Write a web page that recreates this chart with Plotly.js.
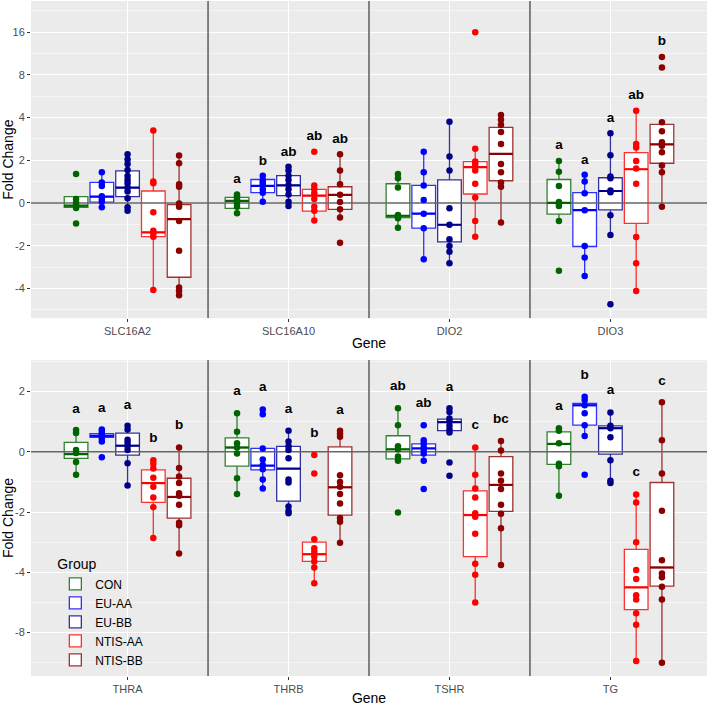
<!DOCTYPE html>
<html><head><meta charset="utf-8">
<script src="https://cdn.plot.ly/plotly-3.0.1.min.js"></script>
<style>body{margin:0;padding:0;background:#fff}#chart{width:709px;height:706px}</style>
</head><body><div id="chart"></div>
<script>
// y values are log2 fold change; tick labels show signed fold change
const groups = ['CON','EU-AA','EU-BB','NTIS-AA','NTIS-BB'];
const pointColors = ['#006400','#0000FF','#00008B','#FF0000','#8B0000'];
const boxColors = ['rgba(0,100,0,0.8)','rgba(0,0,255,0.8)','rgba(0,0,139,0.8)','rgba(255,0,0,0.8)','rgba(139,0,0,0.8)'];

const genesTop = ['SLC16A2','SLC16A10','DIO2','DIO3'];
const genesBottom = ['THRA','THRB','TSHR','TG'];
const yTickValsTop = [-2,-1,0,1,2,3,4];
const yTickTextTop = ['-4','-2','0','2','4','8','16'];
const yTickValsBottom = [-3,-2,-1,0,1];
const yTickTextBottom = ['-8','-4','-2','0','2'];

// ---------- TOP PANEL: [group][gene] ----------
const topPoints = [
  [[0.68,0.09,0.01,-0.05,-0.12,-0.48],[0.20,0.15,0.09,0.05,-0.01,-0.09,-0.24],[0.68,0.58,0.36,-0.28,-0.30,-0.36,-0.58],[0.98,0.73,0.40,0.02,-0.02,-0.07,-0.42,-1.59]],
  [[0.72,0.48,0.40,0.16,0.09,0.03,-0.10],[0.64,0.54,0.48,0.42,0.32,0.24,0.03],[1.20,0.72,0.41,0.07,-0.25,-0.59,-1.32],[0.66,0.50,0.23,-0.17,-1.01,-1.28,-1.71]],
  [[1.14,1.02,0.91,0.77,0.63,0.54,0.46,0.36,0.27,0.11,-0.10,-0.18],[0.85,0.76,0.64,0.54,0.42,0.32,0.20,0.03,-0.07],[1.90,1.09,0.76,-0.125,-0.51,-0.85,-1.01,-1.14,-1.41],[1.63,1.12,0.62,0.58,0.29,0.25,-0.29,-0.75,-2.37]],
  [[1.70,0.50,0.46,-0.22,-0.65,-0.71,-0.79,-2.04],[1.20,0.41,0.32,0.23,0.09,-0.09,-0.18,-0.41],[4.0,1.27,0.97,0.91,0.84,0.76,0.45,0.13,-0.42,-0.79],[2.16,1.38,1.30,0.98,0.81,0.45,-0.80,-1.41,-2.06]],
  [[1.11,0.93,0.44,0.38,-0.01,-0.09,-0.42,-1.12,-1.98,-2.06,-2.16],[1.14,0.76,0.44,0.19,0.02,-0.15,-0.34,-0.93],[2.06,1.95,1.83,1.66,1.38,0.91,0.72,0.48,0.38,-0.46],[3.42,3.17,1.89,1.68,1.42,1.34,1.19,0.875,0.72,-0.09]]
];
const topQ1 = [[-0.10,-0.125,-0.34,-0.26],[0.02,0.24,-0.59,-1.02],[0.15,0.17,-0.91,-0.16],[-0.79,-0.19,0.21,-0.48],[-1.74,-0.15,0.52,0.93]];
const topMedian = [[-0.06,0.05,-0.30,0.0],[0.15,0.40,-0.25,-0.17],[0.36,0.41,-0.51,0.28],[-0.69,0.17,0.84,0.79],[-0.38,0.19,1.15,1.37]];
const topQ3 = [[0.15,0.13,0.45,0.55],[0.48,0.55,0.41,0.24],[0.75,0.64,0.54,0.59],[0.28,0.32,0.97,1.18],[-0.04,0.38,1.77,1.84]];
const topLower = [[-0.12,-0.24,-0.58,-0.42],[-0.10,0.03,-1.32,-1.71],[-0.18,-0.07,-1.41,-0.75],[-2.04,-0.41,-0.79,-2.06],[-2.16,-0.34,-0.46,-0.09]];
const topUpper = [[0.15,0.20,0.68,0.98],[0.72,0.64,1.20,0.66],[1.14,0.85,1.90,1.63],[1.70,0.41,1.27,2.16],[1.11,1.14,2.06,1.89]];
const topLabels = [['','a','','a'],['','b','','a'],['','ab','','a'],['','ab','','ab'],['','ab','','b']];
const topLabelY = [[null,0.54,null,1.34],[null,0.97,null,0.98],[null,1.18,null,1.98],[null,1.55,null,2.52],[null,1.49,null,3.78]];

// ---------- BOTTOM PANEL: [group][gene] ----------
const botPoints = [
  [[0.36,0.31,0.03,-0.02,-0.17,-0.38],[0.64,0.33,0.14,0.07,-0.03,-0.44,-0.70],[0.72,0.44,0.09,0.04,-0.08,-0.15,-1.01],[0.39,0.35,0.14,-0.20,-0.24,-0.73]],
  [[0.37,0.33,0.29,0.26,0.22,0.17,-0.09],[0.70,0.62,0.055,-0.13,-0.22,-0.29,-0.46,-0.61],[0.44,0.19,0.14,0.08,0.03,-0.03,-0.15,-0.62],[0.91,0.86,0.77,0.64,0.44,0.26,-0.38]],
  [[0.43,0.37,0.20,0.15,0.09,0.03,-0.19,-0.56],[0.35,0.17,0.09,0.03,-0.11,-0.46,-0.51,-0.91,-0.98,-1.02],[0.72,0.66,0.55,0.50,0.43,0.37,0.32,-0.18,-0.40],[0.65,0.43,0.39,0.24,-0.14,-0.48,-0.52]],
  [[-0.14,-0.20,-0.28,-0.43,-0.58,-0.76,-0.92,-1.43],[-0.055,-0.36,-1.45,-1.60,-1.66,-1.74,-1.82,-1.92,-2.18],[0.07,-0.38,-0.61,-0.76,-1.02,-1.08,-1.36,-1.86,-2.04,-2.50],[-0.71,-0.84,-1.50,-1.96,-2.11,-2.38,-2.45,-2.68,-2.87,-3.47]],
  [[0.07,-0.27,-0.41,-0.52,-0.69,-0.73,-0.88,-1.18,-1.22,-1.69],[0.35,0.30,0.25,-0.39,-0.50,-0.58,-0.70,-0.86,-1.10,-1.16,-1.51],[0.18,0.02,-0.36,-0.48,-0.62,-0.88,-1.03,-1.27,-1.88],[0.82,0.19,-0.36,-0.98,-1.80,-2.02,-2.08,-2.24,-2.45,-3.50]]
];
const botQ1 = [[-0.11,-0.24,-0.12,-0.21],[0.24,-0.30,-0.055,0.44],[-0.055,-0.82,0.35,-0.04],[-0.84,-1.82,-1.74,-2.62],[-1.10,-1.05,-0.99,-2.23]];
const botMedian = [[-0.04,0.07,0.04,0.13],[0.265,-0.23,0.055,0.77],[0.10,-0.28,0.49,0.39],[-0.52,-1.70,-1.05,-2.25],[-0.75,-0.59,-0.55,-1.92]];
const botQ3 = [[0.155,0.23,0.265,0.33],[0.30,0.055,0.13,0.80],[0.31,0.09,0.54,0.43],[-0.30,-1.50,-0.65,-1.62],[-0.44,0.08,-0.08,-0.51]];
const botLower = [[-0.38,-0.70,-0.15,-0.73],[0.17,-0.61,-0.15,0.26],[-0.56,-1.02,0.32,-0.52],[-1.43,-2.18,-2.50,-3.47],[-1.69,-1.51,-1.88,-3.50]];
const botUpper = [[0.36,0.64,0.72,0.39],[0.37,0.055,0.19,0.91],[0.43,0.35,0.72,0.65],[-0.14,-1.45,0.07,-0.71],[0.07,0.35,0.18,0.82]];
const botLabels = [['a','a','ab','a'],['a','a','ab','b'],['a','a','a','a'],['b','b','c','c'],['b','a','bc','c']];
const botLabelY = [[0.70,0.99,1.08,0.75],[0.72,1.06,0.80,1.27],[0.77,0.70,1.06,1.01],[0.21,0.30,0.43,-0.35],[0.44,0.69,0.54,1.17]];

// ---------- build ----------
const dodge = [-0.32,-0.16,0,0.16,0.32];
const boxW = 0.147;
const xRange = [0.4, 4.6];
const yRangeTop = [-2.70, 4.73];
const yRangeBot = [-3.72, 1.52];
const traces = [];

function addRefLines(xa, ya, yr) {
  // gene separators (between categories) and zero line, drawn beneath the boxes
  const lx = [], ly = [];
  [1.5, 2.5, 3.5].forEach(v => { lx.push(v, v, null); ly.push(yr[0], yr[1], null); });
  lx.push(xRange[0], xRange[1]); ly.push(0, 0);
  traces.push({type: 'scatter', mode: 'lines', x: lx, y: ly, showlegend: false,
    line: {color: '#666666', width: 1.6}, xaxis: xa, yaxis: ya, hoverinfo: 'skip', cliponaxis: true});
}

function addPanel(genes, pts, q1, med, q3, lo, hi, labs, labY, xa, ya, yr, showLeg) {
  addRefLines(xa, ya, yr);
  groups.forEach((g, gi) => {
    const xs = genes.map((_, i) => i + 1 + dodge[gi]);
    traces.push({
      type: 'box', name: g, legendgroup: g, showlegend: showLeg,
      x: xs, q1: q1[gi], median: med[gi], q3: q3[gi],
      lowerfence: lo[gi], upperfence: hi[gi],
      width: boxW, boxpoints: false, whiskerwidth: 0,
      fillcolor: 'white', line: {color: boxColors[gi], width: 1.3},
      marker: {color: pointColors[gi]},
      xaxis: xa, yaxis: ya, hoverinfo: 'skip'
    });
    // thicker median bar (as in ggplot)
    const mx = [], my = [];
    xs.forEach((x, i) => { mx.push(x - boxW / 2, x + boxW / 2, null); my.push(med[gi][i], med[gi][i], null); });
    traces.push({type: 'scatter', mode: 'lines', x: mx, y: my, showlegend: false,
      line: {color: pointColors[gi], width: 2.2}, xaxis: xa, yaxis: ya, hoverinfo: 'skip'});
  });
  groups.forEach((g, gi) => {
    const px = [], py = [];
    pts[gi].forEach((arr, i) => arr.forEach(v => { px.push(i + 1 + dodge[gi]); py.push(v); }));
    traces.push({
      type: 'scatter', mode: 'markers', x: px, y: py, showlegend: false,
      marker: {color: pointColors[gi], size: 6.5},
      xaxis: xa, yaxis: ya, hoverinfo: 'skip'
    });
  });
  const tx = [], ty = [], tt = [];
  groups.forEach((g, gi) => genes.forEach((_, i) => {
    if (labs[gi][i]) { tx.push(i + 1 + dodge[gi]); ty.push(labY[gi][i]); tt.push('<b>' + labs[gi][i] + '</b>'); }
  }));
  traces.push({
    type: 'scatter', mode: 'text', x: tx, y: ty, text: tt, showlegend: false,
    textfont: {size: 13.5, color: '#000', family: 'Liberation Sans, Arial, sans-serif'},
    xaxis: xa, yaxis: ya, hoverinfo: 'skip'
  });
}

addPanel(genesTop, topPoints, topQ1, topMedian, topQ3, topLower, topUpper, topLabels, topLabelY, 'x', 'y', yRangeTop, false);
addPanel(genesBottom, botPoints, botQ1, botMedian, botQ3, botLower, botUpper, botLabels, botLabelY, 'x2', 'y2', yRangeBot, true);

const font = 'Liberation Sans, Arial, sans-serif';
const xBase = {
  range: xRange, tickmode: 'array', tickvals: [1,2,3,4],
  showgrid: true, gridcolor: '#FFFFFF', gridwidth: 1, zeroline: false,
  ticks: 'outside', ticklen: 3, tickcolor: '#333333', tickwidth: 1,
  tickfont: {size: 11, color: '#4D4D4D', family: font},
  showline: false, automargin: false, fixedrange: true
};
const yBase = {
  tickmode: 'array', showgrid: true, gridcolor: '#FFFFFF', gridwidth: 1, zeroline: false,
  ticks: 'outside', ticklen: 3, tickcolor: '#333333', tickwidth: 1,
  tickfont: {size: 11, color: '#4D4D4D', family: font},
  minor: {tickmode: 'linear', tick0: 0.5, dtick: 1, showgrid: true, gridcolor: '#FFFFFF', gridwidth: 0.5},
  showline: false, automargin: false, fixedrange: true
};

const layout = {
  width: 709, height: 706,
  margin: {l: 31, r: 2, t: 1, b: 30},
  paper_bgcolor: '#FFFFFF', plot_bgcolor: '#EBEBEB',
  font: {family: font, color: '#000'},
  boxmode: 'overlay',
  showlegend: true,
  xaxis: Object.assign({}, xBase, {domain: [0,1], anchor: 'y', ticktext: genesTop,
    title: {text: 'Gene', font: {size: 14, color: '#000', family: font}, standoff: 1}}),
  yaxis: Object.assign({}, yBase, {domain: [0.530, 1], anchor: 'x', range: yRangeTop,
    tickvals: yTickValsTop, ticktext: yTickTextTop,
    title: {text: 'Fold Change', font: {size: 14, color: '#000', family: font}, standoff: 4}}),
  xaxis2: Object.assign({}, xBase, {domain: [0,1], anchor: 'y2', ticktext: genesBottom,
    title: {text: 'Gene', font: {size: 14, color: '#000', family: font}, standoff: 3}}),
  yaxis2: Object.assign({}, yBase, {domain: [0, 0.468], anchor: 'x2', range: yRangeBot,
    tickvals: yTickValsBottom, ticktext: yTickTextBottom,
    title: {text: 'Fold Change', font: {size: 14, color: '#000', family: font}, standoff: 4}}),
  legend: {
    x: 0.036, y: 0.185, xanchor: 'left', yanchor: 'top',
    bgcolor: 'rgba(0,0,0,0)', borderwidth: 0,
    title: {text: 'Group', font: {size: 14, color: '#000', family: font}},
    font: {size: 12, color: '#000', family: font},
    tracegroupgap: 0
  }
};

Plotly.newPlot('chart', traces, layout, {displayModeBar: false, staticPlot: true});
</script>
</body></html>
